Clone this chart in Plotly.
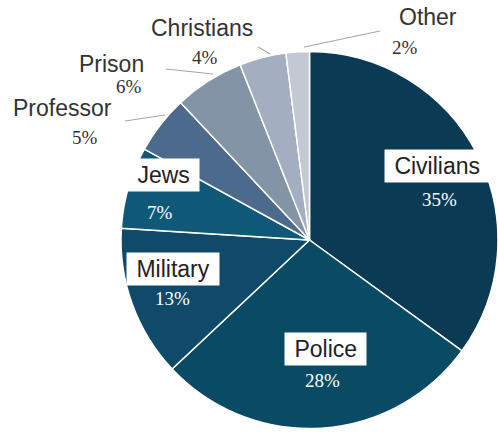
import plotly.graph_objects as go

# ---- data ----
categories = ["Civilians", "Police", "Military", "Jews", "Professor", "Prison", "Christians", "Other"]
values = [35, 28, 13, 7, 5, 6, 4, 2]
colors = ["#0b3a55", "#094a64", "#0f4a6a", "#0f5878", "#4c6a8c", "#8294a6", "#a3afc1", "#c3c9d3"]
pct_labels = [f"{v}%" for v in values]

W, H = 498, 434

def px(x):
    return x / W

def py(y):
    return 1 - y / H

CY, R = 240, 188.5

fig = go.Figure(go.Pie(
    labels=categories,
    values=values,
    sort=False,
    direction="clockwise",
    rotation=0,
    marker=dict(colors=colors, line=dict(color="white", width=1.5)),
    textinfo="none",
    hoverinfo="label+percent",
    showlegend=False,
    domain=dict(x=[px(121), 1.0], y=[py(CY + R), py(CY - R)]),
))

# label placement (pixel positions of label name / percentage)
inside = {
    "Civilians": ((437, 166), (439, 199)),
    "Police": ((325, 349), (322, 380)),
    "Military": ((173, 269), (172, 298)),
    "Jews": ((163, 175), (160, 212)),
}
outside = {
    "Professor": ((63, 108), (85, 137)),
    "Prison": ((111, 64), (129, 87)),
    "Christians": ((202, 28), (205, 57)),
    "Other": ((428, 17), (405, 48)),
}
leaders = {
    "Professor": ((125, 121), (165, 115)),
    "Prison": ((166, 69), (213, 74)),
    "Christians": ((258, 47), (270, 54)),
    "Other": ((304, 47), (380, 31)),
}

NB = "\u00a0"
annotations = []
for name, pct in zip(categories, pct_labels):
    if name in inside:
        (lx, ly), (qx, qy) = inside[name]
        annotations.append(dict(
            x=px(lx), y=py(ly), xref="paper", yref="paper", text=NB + name + NB, showarrow=False,
            font=dict(family="Liberation Sans, Arial", size=23, color="#222222"),
            bgcolor="white", borderpad=3, xanchor="center", yanchor="middle",
        ))
        annotations.append(dict(
            x=px(qx), y=py(qy), xref="paper", yref="paper", text=pct, showarrow=False,
            font=dict(family="Liberation Serif, Times New Roman", size=19, color="white"),
            xanchor="center", yanchor="middle",
        ))
    else:
        (lx, ly), (qx, qy) = outside[name]
        annotations.append(dict(
            x=px(lx), y=py(ly), xref="paper", yref="paper", text=name, showarrow=False,
            font=dict(family="Liberation Sans, Arial", size=23, color="#333333"),
            xanchor="center", yanchor="middle",
        ))
        annotations.append(dict(
            x=px(qx), y=py(qy), xref="paper", yref="paper", text=pct, showarrow=False,
            font=dict(family="Liberation Serif, Times New Roman", size=19, color="#333333"),
            xanchor="center", yanchor="middle",
        ))

shapes = []
for name, ((x0, y0), (x1, y1)) in leaders.items():
    shapes.append(dict(type="line", xref="paper", yref="paper",
                       x0=px(x0), y0=py(y0), x1=px(x1), y1=py(y1),
                       line=dict(color="#a6a6a6", width=1.2)))

fig.update_layout(
    width=W, height=H,
    margin=dict(l=0, r=0, t=0, b=0),
    paper_bgcolor="white",
    plot_bgcolor="white",
    annotations=annotations,
    shapes=shapes,
)

fig.write_html("out.html")
